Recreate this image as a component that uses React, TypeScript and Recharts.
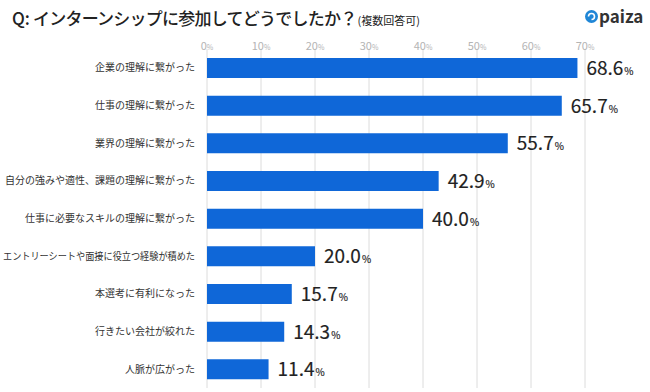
import React from 'react';
import { BarChart, Bar, XAxis, YAxis, CartesianGrid, LabelList } from 'recharts';

const categories = [
  '企業の理解に繋がった',
  '仕事の理解に繋がった',
  '業界の理解に繋がった',
  '自分の強みや適性、課題の理解に繋がった',
  '仕事に必要なスキルの理解に繋がった',
  'エントリーシートや面接に役立つ経験が積めた',
  '本選考に有利になった',
  '行きたい会社が絞れた',
  '人脈が広がった',
];
const values = [68.6, 65.7, 55.7, 42.9, 40.0, 20.0, 15.7, 14.3, 11.4];
const ticks = [0, 10, 20, 30, 40, 50, 60, 70];

const data = categories.map((name, i) => ({ name, value: values[i] }));

const FONT = '"Noto Sans CJK JP", "Noto Sans", sans-serif';

const XTick = (props: any) => {
  const { x, payload } = props;
  return (
    <text x={x} y={50} textAnchor="middle" fill="#b4b4b4" fontFamily={FONT} fontSize={11}>
      {payload.value}
      <tspan fontSize={7}>%</tspan>
    </text>
  );
};

// long labels get squeezed to fit the 200px column, like the original
const YTick = (props: any) => {
  const { x, y, payload } = props;
  const name = String(payload.value);
  const fs = 10;
  const fit = name.length * fs > 192 ? { textLength: 192, lengthAdjust: 'spacingAndGlyphs' } : {};
  return (
    <text x={x} y={y} dy={3.5} textAnchor="end" fill="#333" fontFamily={FONT} fontSize={fs} {...fit}>
      {name}
    </text>
  );
};

const ValueLabel = (props: any) => {
  const { x, y, width, height, value } = props;
  return (
    <text
      x={x + width + 9}
      y={y + height / 2 + 7}
      fill="#222"
      stroke="#222"
      strokeWidth={0.15}
      fontFamily={FONT}
      fontWeight={400}
    >
      <tspan fontSize={19}>{Number(value).toFixed(1)}</tspan>
      <tspan fontSize={10} dx={1}>%</tspan>
    </text>
  );
};

const App: React.FC = () => {
  return (
    <div style={{ position: 'absolute', left: 0, top: 0, width: 650, height: 392, background: '#fff', fontFamily: FONT }}>
      <div style={{ position: 'absolute', left: 12, top: 5, whiteSpace: 'nowrap', color: '#222', fontWeight: 500 }}>
        <span style={{ fontSize: 17 }}>Q:</span>
        <span style={{ fontSize: 17, marginLeft: 3, letterSpacing: -0.75 }}>インターンシップに参加してどうでしたか？</span>
        <span style={{ fontSize: 11, fontWeight: 400, marginLeft: 1 }}>(複数回答可)</span>
      </div>
      <div style={{ position: 'absolute', left: 585, top: 5, display: 'flex', alignItems: 'center' }}>
        <svg width={13} height={13} style={{ marginRight: 1 }}>
          <circle cx={6.5} cy={6.5} r={6.5} fill="#1f86d6" />
          <path d="M3.5 6.5 A3 3 0 1 1 6.5 9.5" stroke="#fff" strokeWidth={1.6} fill="none" />
        </svg>
        <span style={{ fontSize: 17, fontWeight: 700, color: '#333', lineHeight: '22px' }}>paiza</span>
      </div>
      <div style={{ position: 'absolute', left: 0, top: 0 }}>
        <BarChart
          width={650}
          height={392}
          data={data}
          layout="vertical"
          margin={{ top: 29, right: 65, bottom: 4, left: 0 }}
        >
          <CartesianGrid horizontal={false} stroke="#dcdcdc" />
          <XAxis
            type="number"
            orientation="top"
            domain={[0, 70]}
            ticks={ticks}
            height={20}
            axisLine={false}
            tickLine={false}
            tick={<XTick />}
            interval={0}
          />
          <YAxis
            type="category"
            dataKey="name"
            width={207}
            axisLine={false}
            tickLine={false}
            tick={<YTick />}
            tickMargin={6}
            interval={0}
          />
          <Bar dataKey="value" fill="#0f67d8" barSize={20} isAnimationActive={false}>
            <LabelList dataKey="value" content={<ValueLabel />} />
          </Bar>
        </BarChart>
      </div>
    </div>
  );
};

export default App;
